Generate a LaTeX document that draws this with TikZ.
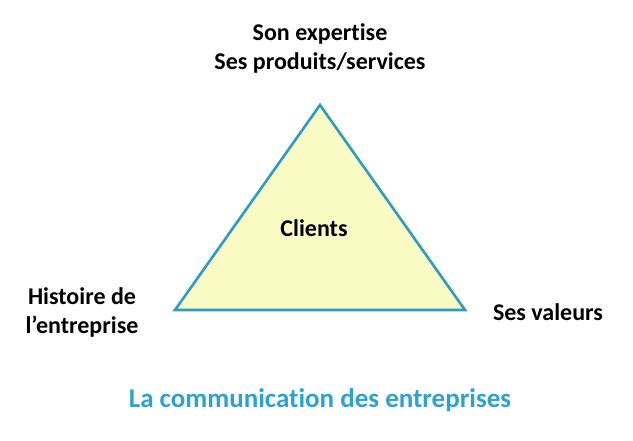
\documentclass[tikz,border=0pt]{standalone}
\usepackage{fontspec}
\setmainfont{Carlito}[Ligatures=NoCommon]
\definecolor{triblue}{HTML}{2E9CC2}
\definecolor{trifill}{HTML}{FAFAC4}
\definecolor{titleblue}{HTML}{2AA3D3}
\begin{document}
\begin{tikzpicture}[x=1pt,y=-1pt,font=\bfseries\fontsize{24}{29}\selectfont,
    label/.style={align=center,inner sep=0pt}]
            \useasboundingbox (0,0) rectangle (633,440);
            \coordinate (top) at (320,105);
            \coordinate (left) at (175,310);
            \coordinate (right) at (465,310);
            \draw [triblue,fill=trifill,line width=2.6pt,line join=miter] (top)--(left)--(right)--cycle;
            \node [label] (clients) at (314,228) {Clients};
            \node [label] (expertise) at (320,48) {Son expertise\\Ses produits/services};
            \node [label] (histoire) at (82,312) {Histoire de\\l’entreprise};
            \node [label] (valeurs) at (548,312) {Ses valeurs};
            \node [label,titleblue,font=\bfseries\fontsize{27}{32}\selectfont] (titre) at (320,400) {La communication des entreprises};
        \end{tikzpicture}
\end{document}
